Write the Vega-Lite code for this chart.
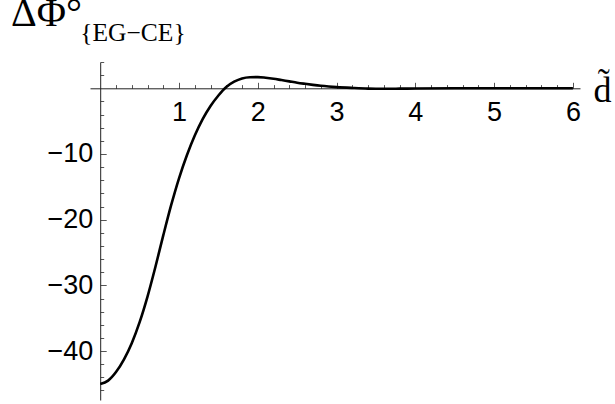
{
  "$schema": "https://vega.github.io/schema/vega-lite/v6.json",
  "width": 490,
  "height": 338,
  "autosize": {"type": "none"},
  "padding": {"left": 90, "top": 62, "right": 35, "bottom": 4},
  "background": "white",
  "config": {"view": {"stroke": null}},
  "title": {
    "text": "ΔΦ°",
    "anchor": "start",
    "frame": "group",
    "dx": -79,
    "dy": 45,
    "offset": 0,
    "baseline": "alphabetic",
    "font": "Liberation Serif",
    "fontSize": 40,
    "fontWeight": "normal",
    "color": "black"
  },
  "data": {
    "values": [
      {"d": 0.0, "phi": -45.0},
      {"d": 0.1, "phi": -44.5},
      {"d": 0.2, "phi": -43.2},
      {"d": 0.3, "phi": -41.3},
      {"d": 0.4, "phi": -38.8},
      {"d": 0.5, "phi": -35.6},
      {"d": 0.6, "phi": -31.7},
      {"d": 0.7, "phi": -27.2},
      {"d": 0.8, "phi": -22.4},
      {"d": 0.9, "phi": -17.8},
      {"d": 1.0, "phi": -13.7},
      {"d": 1.1, "phi": -10.2},
      {"d": 1.2, "phi": -7.2},
      {"d": 1.3, "phi": -4.7},
      {"d": 1.4, "phi": -2.7},
      {"d": 1.5, "phi": -1.1},
      {"d": 1.6, "phi": 0.2},
      {"d": 1.7, "phi": 1.0},
      {"d": 1.8, "phi": 1.5},
      {"d": 1.9, "phi": 1.68},
      {"d": 2.0, "phi": 1.7},
      {"d": 2.1, "phi": 1.6},
      {"d": 2.2, "phi": 1.45},
      {"d": 2.3, "phi": 1.25},
      {"d": 2.4, "phi": 1.05},
      {"d": 2.5, "phi": 0.85},
      {"d": 2.6, "phi": 0.68},
      {"d": 2.7, "phi": 0.52},
      {"d": 2.8, "phi": 0.38},
      {"d": 2.9, "phi": 0.27},
      {"d": 3.0, "phi": 0.18},
      {"d": 3.2, "phi": 0.05},
      {"d": 3.4, "phi": -0.05},
      {"d": 3.6, "phi": -0.08},
      {"d": 3.8, "phi": -0.06},
      {"d": 4.0, "phi": -0.03},
      {"d": 4.5, "phi": 0.0},
      {"d": 5.0, "phi": 0.0},
      {"d": 5.5, "phi": 0.0},
      {"d": 6.0, "phi": 0.0}
    ]
  },
  "mark": {"type": "line", "color": "black", "strokeWidth": 2.6, "interpolate": "monotone", "clip": false},
  "encoding": {
    "x": {
      "field": "d",
      "type": "quantitative",
      "scale": {"domain": [-0.13, 6.09], "nice": false, "zero": false},
      "axis": {
        "orient": "bottom",
        "offset": -311.7,
        "grid": false,
        "values": [0.2, 0.4, 0.6, 0.8, 1, 1.2, 1.4, 1.6, 1.8, 2, 2.2, 2.4, 2.6, 2.8, 3, 3.2, 3.4, 3.6, 3.8, 4, 4.2, 4.4, 4.6, 4.8, 5, 5.2, 5.4, 5.6, 5.8, 6],
        "tickSize": {"condition": {"test": "datum.value % 1 === 0", "value": -6}, "value": -3.7},
        "tickColor": "#555",
        "tickWidth": 1,
        "domainColor": "#222",
        "domainWidth": 1,
        "labelExpr": "datum.value % 1 === 0 ? format(datum.value, 'd') : ''",
        "labelFont": "Liberation Sans",
        "labelFontSize": 27,
        "labelColor": "black",
        "labelPadding": 17,
        "labelFlush": false,
        "labelOverlap": false,
        "title": "d\u0303",
        "titleFont": "Liberation Serif",
        "titleFontSize": 36,
        "titleFontWeight": "normal",
        "titleColor": "black",
        "titleX": 503,
        "titleY": 13.4,
        "titleAlign": "left",
        "titleBaseline": "alphabetic",
        "titleAngle": 0
      }
    },
    "y": {
      "field": "phi",
      "type": "quantitative",
      "scale": {"domain": [-47.45, 4], "nice": false, "zero": false},
      "axis": {
        "orient": "left",
        "offset": -10.2,
        "grid": false,
        "values": [-46, -44, -42, -40, -38, -36, -34, -32, -30, -28, -26, -24, -22, -20, -18, -16, -14, -12, -10, -8, -6, -4, -2, 2, 4],
        "tickSize": {"condition": {"test": "datum.value % 10 === 0", "value": -6}, "value": -3.5},
        "tickColor": "#555",
        "tickWidth": 1,
        "domainColor": "#222",
        "domainWidth": 1,
        "labelExpr": "datum.value % 10 === 0 ? format(datum.value, 'd') : ''",
        "labelFont": "Liberation Sans",
        "labelFontSize": 27,
        "labelColor": "black",
        "labelPadding": 13.5,
        "labelFlush": false,
        "labelOverlap": false,
        "title": "{EG−CE}",
        "titleFont": "Liberation Serif",
        "titleFontSize": 25.5,
        "titleFontWeight": "normal",
        "titleColor": "black",
        "titleX": -20.5,
        "titleY": -21.5,
        "titleAlign": "left",
        "titleBaseline": "alphabetic",
        "titleAngle": 0
      }
    }
  }
}
